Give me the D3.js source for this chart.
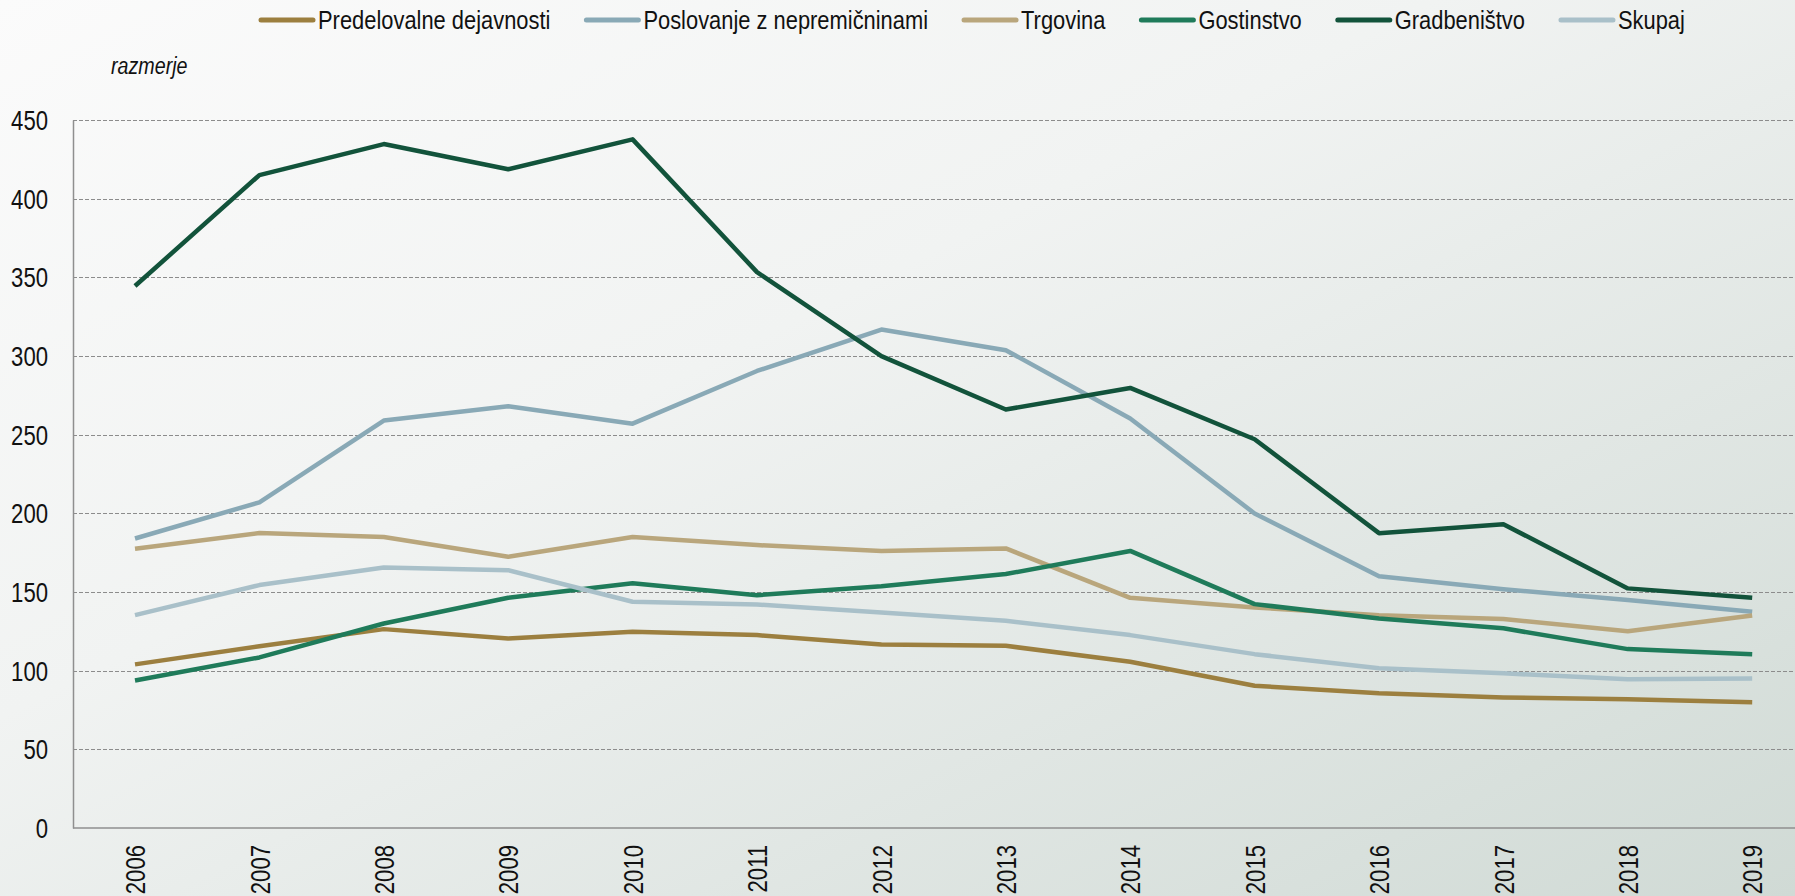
<!DOCTYPE html>
<meta charset="utf-8">
<style>
body { margin: 0; background: #fff; }
svg text { font-family: "Liberation Sans Narrow", "Arial Narrow", "Liberation Sans", sans-serif; fill: #111; }
.grid line { stroke: #8c8c8c; stroke-width: 1px; stroke-dasharray: 4,2; }
.series { fill: none; stroke-width: 4.5px; stroke-linejoin: round; }
</style>
<body>
<script src="https://d3js.org/d3.v7.min.js"></script>
<script>

// data
var years = [2006, 2007, 2008, 2009, 2010, 2011, 2012, 2013, 2014, 2015, 2016, 2017, 2018, 2019];
var predelovalne = [104, 115.5, 126.4, 120.5, 124.7, 122.6, 116.7, 115.8, 105.7, 90.4, 85.6, 83, 81.8, 80];
var poslovanje = [184, 207, 259, 268, 257, 290.5, 316.8, 303.7, 260.3, 199.9, 160, 151.7, 144.9, 137.4];
var trgovina = [177.5, 187.5, 185, 172.4, 185, 179.8, 176, 177.7, 146.3, 140.2, 135.3, 132.8, 125, 135];
var gostinstvo = [93.8, 108.4, 130, 146.3, 155.5, 148, 153.7, 161.4, 176.1, 142.3, 133.2, 126.9, 113.7, 110.5];
var gradbenistvo = [344.5, 415, 434.7, 418.7, 437.7, 353.3, 299.9, 266, 279.7, 247.1, 187.4, 193.1, 152.3, 146.3];
var skupaj = [135.3, 154.4, 165.6, 163.9, 143.8, 142.1, 137, 131.7, 122.6, 110.5, 101.5, 98.3, 94.5, 95.1];
var yTicks = [0, 50, 100, 150, 200, 250, 300, 350, 400, 450];

var seriesNames = ["Predelovalne dejavnosti", "Poslovanje z nepremičninami", "Trgovina", "Gostinstvo", "Gradbeništvo", "Skupaj"];
var seriesValues = [predelovalne, poslovanje, trgovina, gostinstvo, gradbenistvo, skupaj];
var seriesColors = ["#9c7f3f", "#89a9b6", "#b9a67c", "#1f7b5a", "#12533b", "#a9c0c9"];

var W = 1795, H = 896;
var plotLeft = 73, plotTop = 120, plotBottom = 828;
var narrow = 0.82;   // no narrow font installed, squeeze the glyphs instead

var svg = d3.select("body").append("svg")
    .attr("width", W)
    .attr("height", H);

// background gradient
var grad = svg.append("defs").append("linearGradient")
    .attr("id", "bg")
    .attr("x1", "0%").attr("y1", "0%")
    .attr("x2", "100%").attr("y2", "100%");
grad.append("stop").attr("offset", "0%").attr("stop-color", "#fbfbfb");
grad.append("stop").attr("offset", "40%").attr("stop-color", "#f1f3f2");
grad.append("stop").attr("offset", "100%").attr("stop-color", "#d0dad5");
svg.append("rect").attr("width", W).attr("height", H).attr("fill", "url(#bg)");

var x = d3.scalePoint()
    .domain(years)
    .range([135, 1752.2]);

var y = d3.scaleLinear()
    .domain([0, 450])
    .range([plotBottom, plotTop]);

// gridlines
svg.append("g")
    .attr("class", "grid")
  .selectAll("line")
    .data(yTicks.filter(function(d) { return d > 0; }))
    .enter().append("line")
    .attr("x1", plotLeft)
    .attr("x2", W)
    .attr("y1", function(d) { return Math.round(y(d)) + 0.5; })
    .attr("y2", function(d) { return Math.round(y(d)) + 0.5; });

// y axis
var yAxis = svg.append("g")
    .attr("transform", "translate(" + plotLeft + ",0)")
    .call(d3.axisLeft(y).tickValues(yTicks).tickSize(0));
yAxis.select(".domain").attr("stroke", "#8f8f8f").attr("stroke-width", 1.5);
yAxis.selectAll("text")
    .style("font-size", "27px")
    .attr("x", -25 / narrow)
    .attr("dy", "0.35em")
    .attr("transform", "scale(" + narrow + ",1)");

// x axis
var xAxis = svg.append("g")
    .attr("transform", "translate(0," + plotBottom + ")")
    .call(d3.axisBottom(x).tickSize(0).tickFormat(d3.format("d")));
xAxis.select(".domain").attr("d", "M" + plotLeft + ",0H" + W)
    .attr("stroke", "#8f8f8f").attr("stroke-width", 1.5);
xAxis.selectAll("text")
    .style("font-size", "27px")
    .attr("text-anchor", "end")
    .attr("transform", "rotate(-90) scale(" + narrow + ",1)")
    .attr("x", -17 / narrow)
    .attr("y", 0)
    .attr("dy", "0.36em");

svg.append("text")
    .attr("transform", "translate(111,74) scale(" + narrow + ",1)")
    .style("font-size", "24px")
    .style("font-style", "italic")
    .text("razmerje");

// lines
var line = d3.line()
    .x(function(d, i) { return x(years[i]); })
    .y(function(d) { return y(d); });

svg.selectAll(".series")
    .data(seriesValues)
    .enter().append("path")
    .attr("class", "series")
    .attr("d", line)
    .attr("stroke", function(d, i) { return seriesColors[i]; });

// legend
var legend = svg.append("g");
var lx = 261;
seriesNames.forEach(function(name, i) {
  legend.append("line")
      .attr("x1", lx).attr("x2", lx + 52)
      .attr("y1", 20).attr("y2", 20)
      .attr("stroke", seriesColors[i])
      .attr("stroke-width", 5)
      .attr("stroke-linecap", "round");
  var t = legend.append("text")
      .attr("transform", "translate(" + (lx + 57) + ",20) scale(" + narrow + ",1)")
      .attr("dy", "0.35em")
      .style("font-size", "26.7px")
      .text(name);
  lx += 57 + t.node().getComputedTextLength() * narrow + 36;
});

</script>
</body>
